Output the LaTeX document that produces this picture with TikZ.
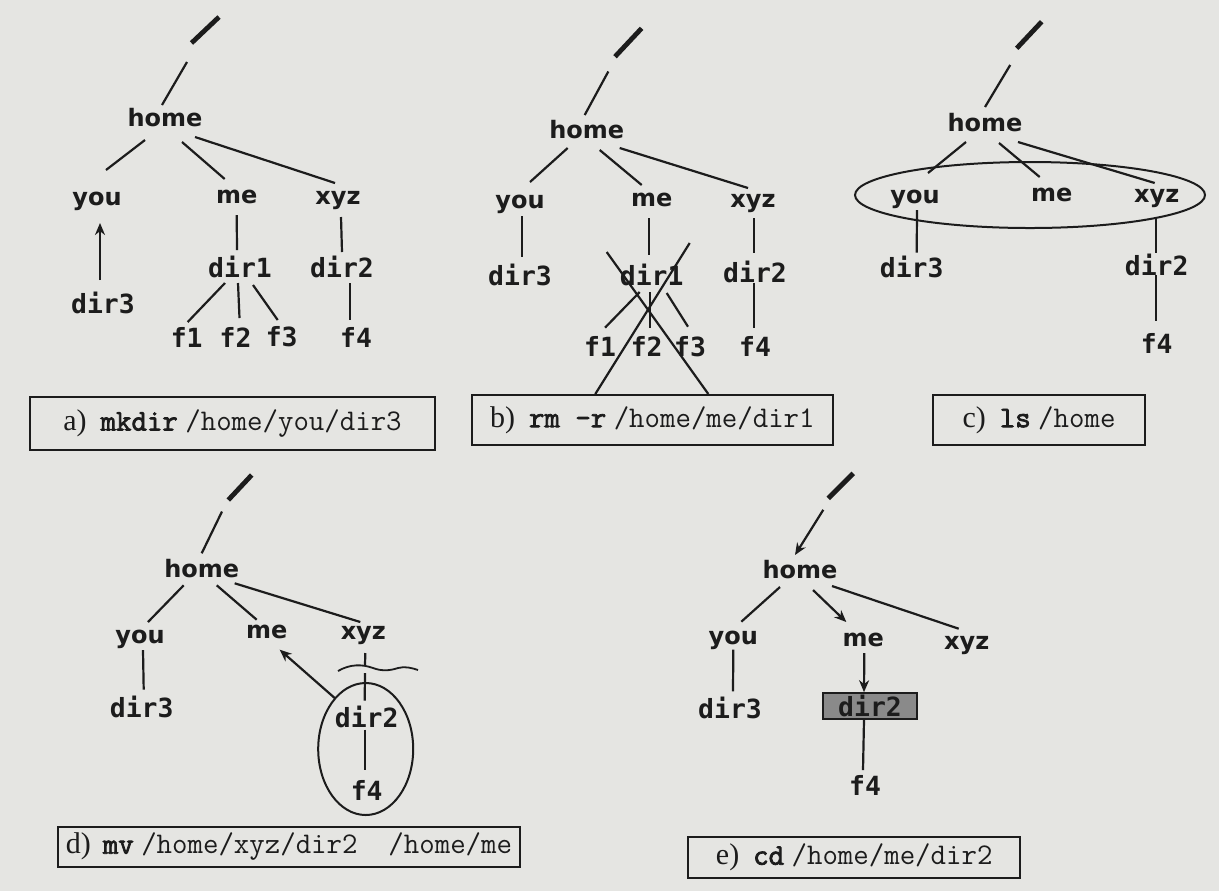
\documentclass[tikz,border=0pt]{standalone}
\usepackage{fontspec}
\setmainfont{Liberation Serif}
\newfontfamily\labsans{DejaVu Sans}
\newfontfamily\labmono{DejaVu Sans Mono}
\newfontfamily\capmono{Latin Modern Mono}
\newfontfamily\capmonob{Latin Modern Mono}[FakeBold=2.5]
\usetikzlibrary{shapes.geometric,arrows.meta}
\definecolor{bg}{RGB}{229,229,226}
\definecolor{ink}{RGB}{28,28,28}
\definecolor{boxgray}{RGB}{138,138,138}
\tikzset{
  lab/.style={inner sep=0pt, text=ink, font=\labsans\bfseries\fontsize{12}{13}\selectfont},
  mlab/.style={inner sep=0pt, text=ink, font=\labmono\bfseries\fontsize{13.2}{14}\selectfont},
  ln/.style={draw=ink, line width=1.1pt},
  rootslash/.style={draw=ink, line width=2.4pt},
  arr/.style={ln, -{Stealth[length=6pt,width=5pt]}},
  capbox/.style={draw=ink, line width=1pt, inner sep=0pt, text=ink, font=\fontsize{15}{16}\selectfont},
  ring/.style={draw=ink, line width=1pt, ellipse, inner sep=0pt},
}
\newcommand\ed[5][]{\draw[ln,#1] ([shift={#3}]#2.center) -- ([shift={#5}]#4.center);}
\newcommand\cmdname[1]{{\capmonob #1}}
\newcommand\cmdarg[1]{{\capmono #1}}
\begin{document}
\begin{tikzpicture}[x=0.5pt,y=-0.5pt]
\path[use as bounding box, fill=bg] (0,0) rectangle (1219,891);

%================ a) =================
\coordinate (rootA) at (205,30);
\draw[rootslash] ([shift={(-13.5,13)}]rootA) -- ([shift={(14,-13)}]rootA);
\node[lab] (homeA) at (165,118) {home};
\node[lab] (youA) at (97,201) {you};
\node[lab] (meA) at (236.7,197) {me};
\node[lab] (xyzA) at (338,201) {xyz};
\node[mlab] (dir1A) at (240,267) {dir1};
\node[mlab] (dir2A) at (342,267) {dir2};
\node[mlab] (dir3A) at (103,303) {dir3};
\node[mlab] (f1A) at (186.7,337) {f1};
\node[mlab] (f2A) at (235.5,337) {f2};
\node[mlab] (f3A) at (281.7,337) {f3};
\node[mlab] (f4A) at (356,337) {f4};
\ed{rootA}{(-18,32)}{homeA}{(-3,-13)}
\ed{homeA}{(-20,22)}{youA}{(9,-31)}
\ed{homeA}{(17,24)}{meA}{(-12,-18)}
\ed{homeA}{(30,19)}{xyzA}{(-3,-18)}
\ed{meA}{(0,18)}{dir1A}{(-3,-17)}
\ed{xyzA}{(3,16)}{dir2A}{(0,-15)}
\ed[arr]{dir3A}{(-3,-23)}{youA}{(3,22)}
\ed{dir1A}{(-15,16)}{f1A}{(1,-15)}
\ed{dir1A}{(-2,16)}{f2A}{(4,-19)}
\ed{dir1A}{(13,18)}{f3A}{(-4,-17)}
\ed{dir2A}{(8,16)}{f4A}{(-6,-17)}
\node[capbox, minimum width=202.5pt, minimum height=26.5pt] (capA) at (232.5,423.5)
  {a)\hspace{7pt}\cmdname{mkdir} \cmdarg{/home/you/dir3}};

%================ b) =================
\coordinate (rootB) at (628.3,42.5);
\draw[rootslash] ([shift={(-13.3,14.2)}]rootB) -- ([shift={(13.3,-14.2)}]rootB);
\node[lab] (homeB) at (586.7,130) {home};
\node[lab] (youB) at (520,204) {you};
\node[lab] (meB) at (651.7,200) {me};
\node[lab] (xyzB) at (753,204) {xyz};
\node[mlab] (dir3B) at (520,275) {dir3};
\node[mlab] (dir1B) at (651.7,275) {dir1};
\node[mlab] (dir2B) at (755,271.7) {dir2};
\node[mlab] (f1B) at (600,346.7) {f1};
\node[mlab] (f2B) at (646.7,346.7) {f2};
\node[mlab] (f3B) at (690,346.7) {f3};
\node[mlab] (f4B) at (755,346.7) {f4};
\ed{rootB}{(-20,29)}{homeB}{(-2,-15)}
\ed{homeB}{(-19,18)}{youB}{(10,-22)}
\ed{homeB}{(13,20)}{meB}{(-10,-15)}
\ed{homeB}{(33,18)}{xyzB}{(-5,-16)}
\ed{youB}{(2,12)}{dir3B}{(2,-18)}
\ed{meB}{(-3,18)}{dir1B}{(-3,-20)}
\ed{xyzB}{(1,14)}{dir2B}{(-1,-19)}
\ed{dir2B}{(-1,11)}{f4B}{(-1,-19)}
\ed{dir1B}{(-12,17)}{f1B}{(5,-19)}
\ed{dir1B}{(-2,17)}{f2B}{(3,-19)}
\ed{dir1B}{(15,18)}{f3B}{(-2,-20)}
\node[capbox, minimum width=180.6pt, minimum height=25pt] (capB) at (652.3,420)
  {b)\hspace{7pt}\cmdname{rm -r} \cmdarg{/home/me/dir1}};
\draw[ln] ([shift={(-45,-23)}]dir1B.center) -- ([shift={(56,0)}]capB.north);
\draw[ln] ([shift={(38,-32)}]dir1B.center) -- ([shift={(-57,0)}]capB.north);

%================ c) =================
\coordinate (rootC) at (1029.2,35);
\draw[rootslash] ([shift={(-12.5,13.3)}]rootC) -- ([shift={(12.5,-13.3)}]rootC);
\node[lab] (homeC) at (985,123) {home};
\node[lab] (youC) at (915,199) {you};
\node[lab] (meC) at (1051.7,195) {me};
\node[lab] (xyzC) at (1156.7,199) {xyz};
\node[mlab] (dir3C) at (911.7,266.7) {dir3};
\node[mlab] (dir2C) at (1156.7,265) {dir2};
\node[mlab] (f4C) at (1156.7,343.3) {f4};
\node[ring, minimum width=175pt, minimum height=33pt] (ellC) at (1030,195) {};
\ed{rootC}{(-19,30)}{homeC}{(0,-16)}
\ed{homeC}{(-19,19)}{youC}{(13,-26)}
\ed{homeC}{(14,20)}{meC}{(-12,-18)}
\ed{homeC}{(33,19)}{xyzC}{(-2,-16)}
\ed{youC}{(2,11)}{dir3C}{(5,-14)}
\ed{xyzC}{(-1,18)}{dir2C}{(-1,-12)}
\ed{dir2C}{(-1,10)}{f4C}{(-1,-22)}
\node[capbox, minimum width=106pt, minimum height=25pt] (capC) at (1039,420)
  {c)\hspace{7pt}\cmdname{ls} \cmdarg{/home}};

%================ d) =================
\coordinate (rootD) at (240,487.5);
\draw[rootslash] ([shift={(-11.7,12.5)}]rootD) -- ([shift={(11.7,-12.5)}]rootD);
\node[lab] (homeD) at (201.7,568.3) {home};
\node[lab] (youD) at (140,639) {you};
\node[lab] (meD) at (266.7,631.7) {me};
\node[lab] (xyzD) at (363.3,636) {xyz};
\node[mlab] (dir3D) at (141.7,706.7) {dir3};
\node[mlab] (dir2D) at (366.7,716.7) {dir2};
\node[mlab] (f4D) at (366.7,790) {f4};
\node[ring, minimum width=47.5pt, minimum height=66pt] (ellD) at (365.7,749) {};
\coordinate (cutD) at (365,669);
\ed{rootD}{(-18,24)}{homeD}{(0,-15)}
\ed{homeD}{(-18,17)}{youD}{(8,-17)}
\ed{homeD}{(15,17)}{meD}{(-10,-12)}
\ed{homeD}{(33,15)}{xyzD}{(-3,-14)}
\ed{youD}{(3,11)}{dir3D}{(2,-17)}
\ed{xyzD}{(2,17)}{cutD}{(0,-4)}
\ed{cutD}{(0,4)}{dir2D}{(-2,-16)}
\draw[ln, line width=0.9pt] ([shift={(-27,2)}]cutD) .. controls ([shift={(-15,-5)}]cutD) and ([shift={(-3,-5)}]cutD) .. ([shift={(8,-1)}]cutD)
  .. controls ([shift={(16,2)}]cutD) and ([shift={(24,2)}]cutD) .. ([shift={(33,-1)}]cutD)
  .. controls ([shift={(40,-3)}]cutD) and ([shift={(47,-1)}]cutD) .. ([shift={(53,1)}]cutD);
\ed{dir2D}{(-2,13)}{f4D}{(-2,-20)}
\ed[arr]{ellD}{(-31,-51)}{meD}{(13,18)}
\node[capbox, minimum width=231pt, minimum height=20pt] (capD) at (289,846.7)
  {d)\hspace{6pt}\cmdname{mv} \cmdarg{/home/xyz/dir2\ \ /home/me}};

%================ e) =================
\coordinate (rootE) at (840.8,485.8);
\draw[rootslash] ([shift={(-12.5,12.5)}]rootE) -- ([shift={(12.5,-12.5)}]rootE);
\node[lab] (homeE) at (800,570) {home};
\node[lab] (youE) at (733.3,640.7) {you};
\node[lab] (meE) at (863.3,640) {me};
\node[lab] (xyzE) at (966.7,645.7) {xyz};
\node[mlab] (dir3E) at (730,708.3) {dir3};
\node[mlab, draw=ink, line width=0.8pt, fill=boxgray, minimum width=47pt, minimum height=13pt] (dir2E) at (870,706) {dir2};
\node[mlab] (f4E) at (865,785) {f4};
\ed[arr]{rootE}{(-17.5,24)}{homeE}{(-5,-15)}
\ed{homeE}{(-20,17)}{youE}{(8,-19)}
\ed[arr]{homeE}{(13,20)}{meE}{(-17,-18)}
\ed{homeE}{(32,16)}{xyzE}{(-8,-17)}
\ed{youE}{(0,9)}{dir3E}{(3,-17)}
\draw[arr] ([shift={(1,13)}]meE.center) -- ([shift={(-6,0)}]dir2E.north);
\draw[ln] ([shift={(-6,0)}]dir2E.south) -- ([shift={(-2,-15)}]f4E.center);
\node[capbox, minimum width=165.8pt, minimum height=20.8pt] (capE) at (854.2,857.5)
  {e)\hspace{7pt}\cmdname{cd} \cmdarg{/home/me/dir2}};
\end{tikzpicture}
\end{document}
